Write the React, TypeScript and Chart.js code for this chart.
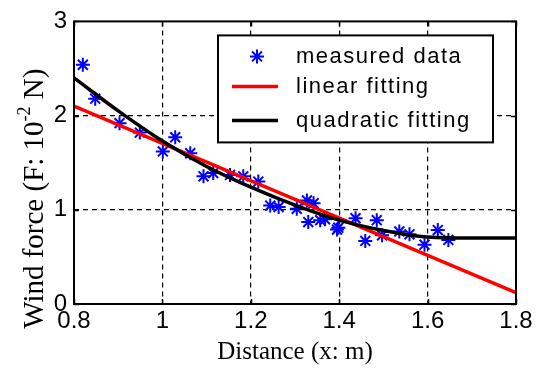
import React, { useEffect, useRef } from 'react';
import { Chart, registerables } from 'chart.js';

Chart.register(...registerables);

// ---- data ----
const measuredX = [0.82, 0.848, 0.903, 0.949, 1.001, 1.029, 1.063, 1.093, 1.115, 1.153, 1.183, 1.217, 1.244, 1.263, 1.304, 1.327, 1.342, 1.33, 1.357, 1.368, 1.395, 1.398, 1.437, 1.459, 1.485, 1.497, 1.536, 1.559, 1.593, 1.623, 1.647];
const measuredY = [2.54, 2.18, 1.92, 1.82, 1.62, 1.77, 1.6, 1.355, 1.39, 1.37, 1.355, 1.3, 1.045, 1.03, 1.01, 1.1, 1.07, 0.87, 0.89, 0.9, 0.79, 0.81, 0.91, 0.67, 0.89, 0.73, 0.77, 0.74, 0.63, 0.785, 0.68];

const linearX = [0.8, 1.8];
const linearY = [2.1, 0.12];

const quadX = [0.8, 0.9, 1.0, 1.1, 1.2, 1.3, 1.4, 1.5, 1.6, 1.7, 1.8];
const quadY = [2.4, 2.05, 1.73, 1.46, 1.24, 1.05, 0.89, 0.78, 0.71, 0.7, 0.7];

const xTicks = [0.8, 1, 1.2, 1.4, 1.6, 1.8];
const yTicks = [0, 1, 2, 3];

const seriesLabels = ['measured data', 'linear fitting', 'quadratic fitting'];
const xTitle = 'Distance (x: m)';
const yTitleParts = ['Wind force (F: 10', '-2', ' N)'];

function drawStar(ctx: CanvasRenderingContext2D, x: number, y: number, r: number) {
  ctx.beginPath();
  ctx.moveTo(x - r, y); ctx.lineTo(x + r, y);
  ctx.moveTo(x, y - r); ctx.lineTo(x, y + r);
  const d = r * Math.SQRT1_2;
  ctx.moveTo(x - d, y - d); ctx.lineTo(x + d, y + d);
  ctx.moveTo(x - d, y + d); ctx.lineTo(x + d, y - d);
  ctx.stroke();
}

const framePlugin = {
  id: 'matlabFrame',
  afterDatasetsDraw(chart: any) {
    const { ctx, chartArea: a, scales } = chart;
    ctx.save();
    ctx.strokeStyle = '#000';
    ctx.lineWidth = 2;
    ctx.setLineDash([]);
    ctx.strokeRect(a.left, a.top, a.right - a.left, a.bottom - a.top);
    ctx.lineWidth = 1.5;
    const tl = 5;
    ctx.beginPath();
    for (const v of xTicks) {
      const px = Math.round(scales.x.getPixelForValue(v)) + 0.5;
      ctx.moveTo(px, a.bottom); ctx.lineTo(px, a.bottom - tl);
      ctx.moveTo(px, a.top); ctx.lineTo(px, a.top + tl);
    }
    for (const v of yTicks) {
      const py = Math.round(scales.y.getPixelForValue(v)) + 0.5;
      ctx.moveTo(a.left, py); ctx.lineTo(a.left + tl, py);
      ctx.moveTo(a.right, py); ctx.lineTo(a.right - tl, py);
    }
    ctx.stroke();
    ctx.restore();
  },
  afterDraw(chart: any) {
    const { ctx, chartArea: a } = chart;
    const ds = chart.data.datasets;
    // legend box
    const w = 275, h = 107;
    const right = a.right - 23;
    const left = right - w;
    const top = a.top + 14;
    ctx.save();
    ctx.setLineDash([]);
    ctx.fillStyle = '#fff';
    ctx.fillRect(left, top, w, h);
    ctx.strokeStyle = '#000';
    ctx.lineWidth = 2;
    ctx.strokeRect(left, top, w, h);
    const rows = [21, 51, 85];
    ctx.font = '22px "Liberation Sans", Arial, sans-serif';
    (ctx as any).letterSpacing = '1.5px';
    ctx.textBaseline = 'middle';
    ctx.textAlign = 'left';
    ds.forEach((d: any, i: number) => {
      const cy = top + rows[i];
      if (i === 0) {
        ctx.strokeStyle = d.borderColor;
        ctx.lineWidth = 2;
        drawStar(ctx, left + 39, cy, 7);
      } else {
        ctx.strokeStyle = d.borderColor;
        ctx.lineWidth = 3.5;
        ctx.beginPath();
        ctx.moveTo(left + 14, cy);
        ctx.lineTo(left + 60, cy);
        ctx.stroke();
      }
      ctx.fillStyle = '#000';
      ctx.fillText(d.label, left + 78, cy + 1);
    });
    (ctx as any).letterSpacing = '0px';

    // y axis title with superscript
    const big = '29px "Liberation Serif", "Times New Roman", serif';
    const small = '18px "Liberation Serif", "Times New Roman", serif';
    ctx.font = big;
    const w0 = ctx.measureText(yTitleParts[0]).width;
    const w2 = ctx.measureText(yTitleParts[2]).width;
    ctx.font = small;
    const w1 = ctx.measureText(yTitleParts[1]).width;
    const total = w0 + w1 + w2;
    const cx = 33;
    const cyT = (a.top + a.bottom) / 2 + 36;
    ctx.translate(cx, cyT);
    ctx.rotate(-Math.PI / 2);
    ctx.textBaseline = 'alphabetic';
    ctx.fillStyle = '#000';
    let x0 = -total / 2;
    ctx.font = big;
    ctx.fillText(yTitleParts[0], x0, 10);
    x0 += w0;
    ctx.font = small;
    ctx.fillText(yTitleParts[1], x0, -3);
    x0 += w1;
    ctx.font = big;
    ctx.fillText(yTitleParts[2], x0, 10);
    ctx.restore();
  },
};

export default function App() {
  const ref = useRef<HTMLCanvasElement>(null);
  useEffect(() => {
    const canvas = ref.current!;
    const tickFont = { family: '"Liberation Sans", Arial, sans-serif', size: 24 };
    const chart = new Chart(canvas, {
      type: 'scatter',
      data: {
        datasets: [
          {
            label: seriesLabels[0],
            data: measuredX.map((x, i) => ({ x, y: measuredY[i] })),
            showLine: false,
            pointStyle: 'star',
            pointRadius: 7,
            pointBorderWidth: 2,
            borderColor: '#0000ff',
            backgroundColor: '#0000ff',
            order: 3,
          },
          {
            label: seriesLabels[1],
            data: linearX.map((x, i) => ({ x, y: linearY[i] })),
            showLine: true,
            borderColor: '#ff0000',
            backgroundColor: '#ff0000',
            borderWidth: 3.5,
            pointRadius: 0,
            order: 2,
          },
          {
            label: seriesLabels[2],
            data: quadX.map((x, i) => ({ x, y: quadY[i] })),
            showLine: true,
            borderColor: '#000000',
            backgroundColor: '#000000',
            borderWidth: 3.5,
            pointRadius: 0,
            cubicInterpolationMode: 'monotone',
            order: 1,
          },
        ],
      } as any,
      options: {
        responsive: false,
        animation: false,
        devicePixelRatio: 1,
        layout: { padding: { left: 0, top: 14, right: 28, bottom: 0 } },
        plugins: { legend: { display: false }, tooltip: { enabled: false } },
        scales: {
          x: {
            type: 'linear',
            min: 0.8,
            max: 1.8,
            afterBuildTicks: (s: any) => { s.ticks = xTicks.map((v) => ({ value: v })); },
            afterFit: (s: any) => { s.height = 67; },
            ticks: { font: tickFont, color: '#000', padding: 3, maxRotation: 0, autoSkip: false, callback: (v: any) => String(v) },
            grid: {
              drawTicks: false,
              lineWidth: 1.2,
              color: (c: any) => (c.tick && (c.tick.value === 0.8 || c.tick.value === 1.8) ? 'rgba(0,0,0,0)' : '#000'),
            },
            border: { display: false, dash: [5, 4] },
            title: { display: true, text: xTitle, color: '#000', font: { family: '"Liberation Serif", "Times New Roman", serif', size: 25 }, padding: { top: 0, bottom: 4 } },
          },
          y: {
            type: 'linear',
            min: 0,
            max: 3,
            afterBuildTicks: (s: any) => { s.ticks = yTicks.map((v) => ({ value: v })); },
            afterFit: (s: any) => { s.width = 74; },
            ticks: { font: tickFont, color: '#000', padding: 7, callback: (v: any) => String(v) },
            grid: {
              drawTicks: false,
              lineWidth: 1.2,
              color: (c: any) => (c.tick && (c.tick.value === 0 || c.tick.value === 3) ? 'rgba(0,0,0,0)' : '#000'),
            },
            border: { display: false, dash: [5, 4] },
          },
        },
      } as any,
      plugins: [framePlugin],
    });
    return () => chart.destroy();
  }, []);
  return (
    <div style={{ position: 'fixed', left: 0, top: 0, width: 544, height: 371, background: '#fff' }}>
      <canvas ref={ref} width={544} height={371} style={{ display: 'block' }} />
    </div>
  );
}
